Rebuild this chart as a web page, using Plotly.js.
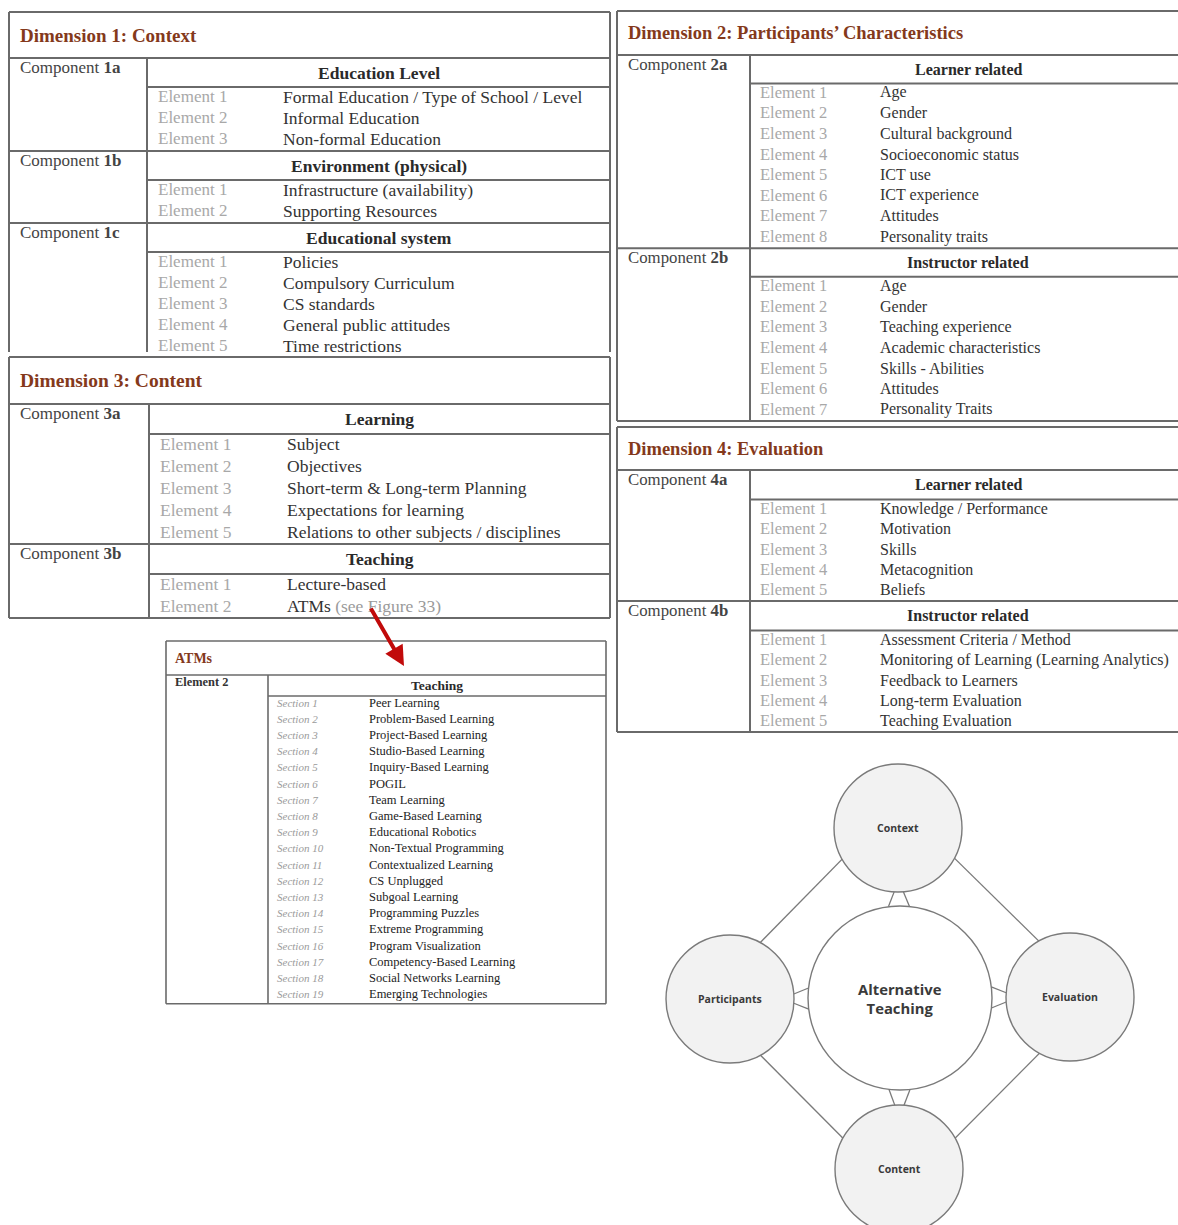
<!DOCTYPE html>
<html>
<head>
<meta charset="utf-8">
<script src="https://cdn.plot.ly/plotly-3.0.1.min.js"></script>
<style>html,body{margin:0;padding:0;background:#fff;}</style>
</head>
<body>
<div id="chart" style="width:1178px;height:1225px;"></div>
<script>
// ---------------- DATA ----------------
const dim1Title = "Dimension 1: Context";
const dim1Components = ["1a", "1b", "1c"];
const dim1Headers = ["Education Level", "Environment (physical)", "Educational system"];
const dim1Elements = [
  ["Formal Education / Type of School / Level", "Informal Education", "Non-formal Education"],
  ["Infrastructure (availability)", "Supporting Resources"],
  ["Policies", "Compulsory Curriculum", "CS standards", "General public attitudes", "Time restrictions"]
];

const dim2Title = "Dimension 2: Participants’ Characteristics";
const dim2Components = ["2a", "2b"];
const dim2Headers = ["Learner related", "Instructor related"];
const dim2Elements = [
  ["Age", "Gender", "Cultural background", "Socioeconomic status", "ICT use", "ICT experience", "Attitudes", "Personality traits"],
  ["Age", "Gender", "Teaching experience", "Academic characteristics", "Skills - Abilities", "Attitudes", "Personality Traits"]
];

const dim3Title = "Dimension 3: Content";
const dim3Components = ["3a", "3b"];
const dim3Headers = ["Learning", "Teaching"];
const dim3Elements = [
  ["Subject", "Objectives", "Short-term & Long-term Planning", "Expectations for learning", "Relations to other subjects / disciplines"],
  ["Lecture-based", "ATMs <span style='color:#9a9a9a'>(see Figure 33)</span>"]
];

const dim4Title = "Dimension 4: Evaluation";
const dim4Components = ["4a", "4b"];
const dim4Headers = ["Learner related", "Instructor related"];
const dim4Elements = [
  ["Knowledge / Performance", "Motivation", "Skills", "Metacognition", "Beliefs"],
  ["Assessment Criteria / Method", "Monitoring of Learning (Learning Analytics)", "Feedback to Learners", "Long-term Evaluation", "Teaching Evaluation"]
];

const atmsTitle = "ATMs";
const atmsComponents = ["Element 2"];
const atmsHeaders = ["Teaching"];
const atmsSections = [[
  "Peer Learning", "Problem-Based Learning", "Project-Based Learning", "Studio-Based Learning",
  "Inquiry-Based Learning", "POGIL", "Team Learning", "Game-Based Learning", "Educational Robotics",
  "Non-Textual Programming", "Contextualized Learning", "CS Unplugged", "Subgoal Learning",
  "Programming Puzzles", "Extreme Programming", "Program Visualization", "Competency-Based Learning",
  "Social Networks Learning", "Emerging Technologies"
]];

const hubLabel = "Alternative<br>Teaching";
const nodeLabels = ["Context", "Participants", "Evaluation", "Content"];

// ---------------- DRAWING ----------------
const shapes = [];
const annotations = [];
const SERIF = "Liberation Serif, Times New Roman, serif";
const SANS = "Open Sans, Liberation Sans, sans-serif";
const LINE = "#6a6a6a";
const BROWN = "#84391b";

function hline(x0, x1, y, w) {
  shapes.push({type: "line", xref: "x", yref: "y", x0: x0, x1: x1, y0: y, y1: y, line: {color: LINE, width: w || 2}});
}
function vline(x, y0, y1, w) {
  shapes.push({type: "line", xref: "x", yref: "y", x0: x, x1: x, y0: y0, y1: y1, line: {color: LINE, width: w || 2}});
}
function text(x, y, t, opt) {
  const o = Object.assign({
    xref: "x", yref: "y", x: x, y: y, text: t, showarrow: false,
    xanchor: "left", yanchor: "middle", font: {family: SERIF, size: 15, color: "#333"}
  }, opt || {});
  if (o.xanchor === "left") o.x = o.x - 2;
  annotations.push(o);
}

function table(cfg) {
  const c = cfg;
  hline(c.x0, c.x1, c.yTop);
  text(c.x0 + 11, c.yTop + c.titleH / 2, "<b>" + c.title + "</b>",
       {font: {family: SERIF, size: c.titleSize, color: BROWN}});
  let y = c.yTop + c.titleH;
  hline(c.x0, c.x1, y);
  const yStart = y;
  c.headers.forEach(function (h, i) {
    const compText = c.compPrefix + "<b>" + c.components[i] + "</b>";
    text(c.x0 + 11, y + c.compDy, compText, {font: {family: SERIF, size: c.compSize, color: "#444"}});
    text((c.xDiv + c.x1) / 2, y + c.headerH / 2, "<b>" + h + "</b>",
         {xanchor: "center", font: {family: SERIF, size: c.headSize, color: "#2a2a2a"}});
    y += c.headerH;
    hline(c.xDiv, c.x1, y);
    c.elements[i].forEach(function (e, j) {
      const yc = y + c.rowH * (j + 0.5) + c.textDy;
      text(c.xLabel, yc, c.labelWord + " " + (j + 1),
           {font: {family: SERIF, size: c.labelSize, color: "#a8a8a8"}});
      text(c.xValue, yc, e, {font: {family: SERIF, size: c.valueSize, color: "#333"}});
    });
    y += c.rowH * c.elements[i].length + c.pad;
    if (i < c.headers.length - 1) hline(c.x0, c.x1, y);
  });
  const yEnd = c.yBottom !== undefined ? c.yBottom : y;
  if (c.drawBottom) hline(c.x0, c.x1, yEnd);
  vline(c.x0, c.yTop, yEnd);
  vline(c.x1, c.yTop, yEnd);
  vline(c.xDiv, yStart, yEnd);
}

table({title: dim1Title, components: dim1Components, headers: dim1Headers, elements: dim1Elements,
  compPrefix: "Component ", labelWord: "Element",
  x0: 9, x1: 610, xDiv: 147, xLabel: 158, xValue: 283, yTop: 12, titleH: 46, headerH: 29, rowH: 21, pad: 1,
  compDy: 9, textDy: -1, titleSize: 19, compSize: 17, headSize: 17.5, labelSize: 17, valueSize: 17.5,
  yBottom: 352, drawBottom: false});

table({title: dim3Title, components: dim3Components, headers: dim3Headers, elements: dim3Elements,
  compPrefix: "Component ", labelWord: "Element",
  x0: 9, x1: 610, xDiv: 149, xLabel: 160, xValue: 287, yTop: 357, titleH: 47, headerH: 30, rowH: 22, pad: 0,
  compDy: 9, textDy: -1, titleSize: 19.5, compSize: 17, headSize: 17.5, labelSize: 17.5, valueSize: 17.5,
  drawBottom: true});

table({title: dim2Title, components: dim2Components, headers: dim2Headers, elements: dim2Elements,
  compPrefix: "Component ", labelWord: "Element",
  x0: 617, x1: 1186, xDiv: 750, xLabel: 760, xValue: 880, yTop: 11, titleH: 44, headerH: 28.5, rowH: 20.6, pad: 0,
  compDy: 9, textDy: -1.5, titleSize: 18.5, compSize: 16.8, headSize: 16, labelSize: 16.5, valueSize: 16,
  drawBottom: true});

table({title: dim4Title, components: dim4Components, headers: dim4Headers, elements: dim4Elements,
  compPrefix: "Component ", labelWord: "Element",
  x0: 617, x1: 1186, xDiv: 750, xLabel: 760, xValue: 880, yTop: 427, titleH: 43, headerH: 29.5, rowH: 20.3, pad: 0,
  compDy: 9, textDy: -1, titleSize: 18.5, compSize: 16.8, headSize: 16, labelSize: 16.5, valueSize: 16,
  drawBottom: true});

// ATMs table (smaller)
(function () {
  const c = {x0: 166, x1: 606, xDiv: 268, xLabel: 277, xValue: 369, yTop: 641, titleH: 34, headerH: 21, rowH: 16.2};
  hline(c.x0, c.x1, c.yTop, 1.6);
  text(c.x0 + 9, c.yTop + c.titleH / 2, "<b>" + atmsTitle + "</b>", {font: {family: SERIF, size: 14, color: BROWN}});
  let y = c.yTop + c.titleH;
  hline(c.x0, c.x1, y, 1.6);
  const yStart = y;
  text(c.x0 + 9, y + 7, "<b>" + atmsComponents[0] + "</b>", {font: {family: SERIF, size: 12.4, color: "#333"}});
  text((c.xDiv + c.x1) / 2, y + c.headerH / 2, "<b>" + atmsHeaders[0] + "</b>",
       {xanchor: "center", font: {family: SERIF, size: 13.5, color: "#2a2a2a"}});
  y += c.headerH;
  hline(c.xDiv, c.x1, y, 1.6);
  atmsSections[0].forEach(function (s, j) {
    const yc = y + c.rowH * (j + 0.5) - 1.5;
    text(c.xLabel, yc, "<i>Section " + (j + 1) + "</i>", {font: {family: SERIF, size: 11, color: "#9a9a9a"}});
    text(c.xValue, yc, s, {font: {family: SERIF, size: 12.5, color: "#222"}});
  });
  y += c.rowH * atmsSections[0].length;
  hline(c.x0, c.x1, y, 1.6);
  vline(c.x0, c.yTop, y, 1.6);
  vline(c.x1, c.yTop, y, 1.6);
  vline(c.xDiv, yStart, y, 1.6);
})();

// Red arrow from ATMs reference to ATMs table
annotations.push({xref: "x", yref: "y", axref: "x", ayref: "y", x: 404, y: 666, ax: 370, ay: 607,
  text: "", showarrow: true, arrowhead: 2, arrowsize: 1, arrowwidth: 4, arrowcolor: "#c10a0a", standoff: 0});

// Circle diagram
const hub = {x: 900, y: 998, r: 92};
const nodes = [
  {x: 898, y: 828, r: 64},
  {x: 730, y: 999, r: 64},
  {x: 1070, y: 997, r: 64},
  {x: 899, y: 1169, r: 64}
];
const CLINE = "#7a7a7a";
[[0, 1], [0, 2], [1, 3], [2, 3]].forEach(function (p) {
  const a = nodes[p[0]], b = nodes[p[1]];
  const dx = b.x - a.x, dy = b.y - a.y, L = Math.hypot(dx, dy);
  let nx = -dy / L, ny = dx / L;
  const mx = (a.x + b.x) / 2 - hub.x, my = (a.y + b.y) / 2 - hub.y;
  if (nx * mx + ny * my < 0) { nx = -nx; ny = -ny; }
  const off = 18;
  shapes.push({type: "line", xref: "x", yref: "y", x0: a.x + nx * off, y0: a.y + ny * off,
    x1: b.x + nx * off, y1: b.y + ny * off, line: {color: CLINE, width: 1.3}});
});
nodes.forEach(function (n) {
  const ang = Math.atan2(n.y - hub.y, n.x - hub.x);
  [-1, 1].forEach(function (s) {
    const ai = ang + s * 0.115, ao = ang + Math.PI - s * 0.072;
    shapes.push({type: "line", xref: "x", yref: "y",
      x0: hub.x + hub.r * Math.cos(ai), y0: hub.y + hub.r * Math.sin(ai),
      x1: n.x + n.r * Math.cos(ao), y1: n.y + n.r * Math.sin(ao),
      line: {color: CLINE, width: 1.3}});
  });
});
nodes.forEach(function (n, i) {
  shapes.push({type: "circle", xref: "x", yref: "y", x0: n.x - n.r, x1: n.x + n.r, y0: n.y - n.r, y1: n.y + n.r,
    fillcolor: "#f2f2f2", line: {color: CLINE, width: 1.4}});
  annotations.push({xref: "x", yref: "y", x: n.x, y: n.y, text: "<b>" + nodeLabels[i] + "</b>", showarrow: false,
    xanchor: "center", yanchor: "middle", font: {family: SANS, size: 10.5, color: "#3a3a3a"}});
});
shapes.push({type: "circle", xref: "x", yref: "y", x0: hub.x - hub.r, x1: hub.x + hub.r, y0: hub.y - hub.r, y1: hub.y + hub.r,
  fillcolor: "#ffffff", line: {color: CLINE, width: 1.4}});
annotations.push({xref: "x", yref: "y", x: hub.x, y: hub.y, text: "<b>" + hubLabel + "</b>", showarrow: false,
  xanchor: "center", yanchor: "middle", font: {family: SANS, size: 14.8, color: "#3a3a3a"}});

const layout = {
  width: 1178, height: 1225,
  margin: {l: 0, r: 0, t: 0, b: 0, pad: 0},
  paper_bgcolor: "#ffffff", plot_bgcolor: "#ffffff",
  showlegend: false,
  xaxis: {range: [0, 1178], visible: false, fixedrange: true},
  yaxis: {range: [1225, 0], visible: false, fixedrange: true},
  shapes: shapes,
  annotations: annotations
};
Plotly.newPlot("chart", [], layout, {staticPlot: true, displayModeBar: false});
</script>
</body>
</html>
